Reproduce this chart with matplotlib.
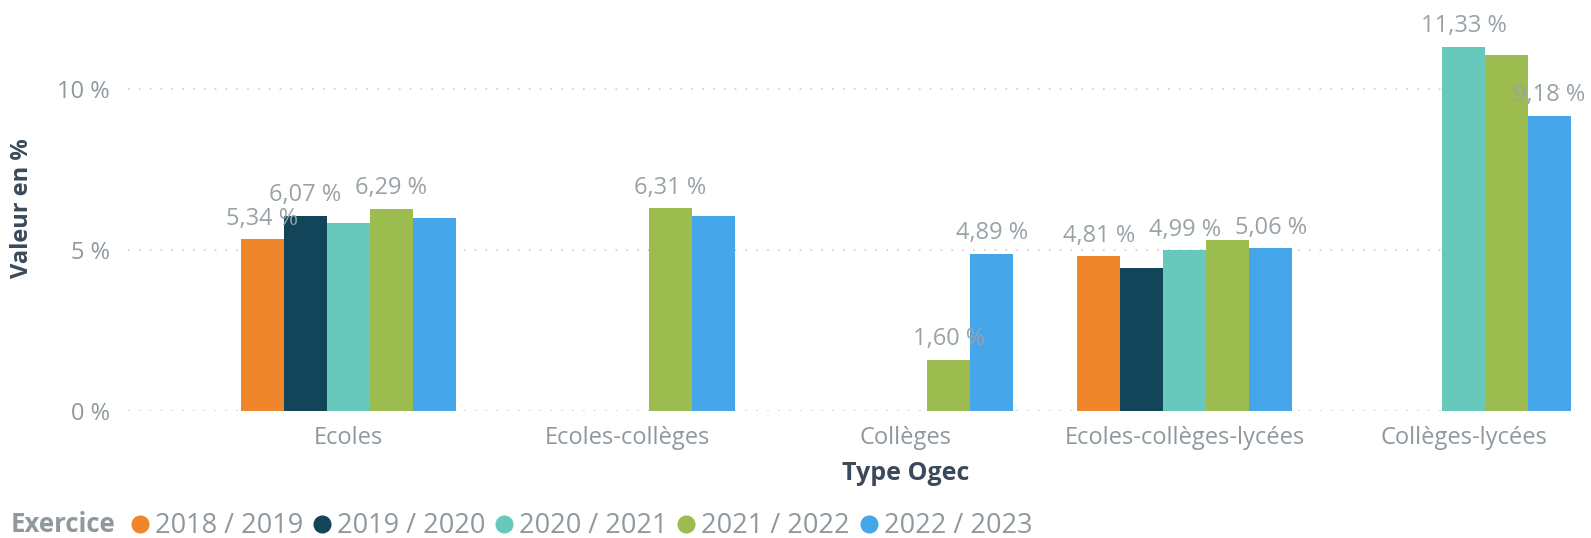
import numpy as np
import matplotlib
matplotlib.use("Agg")
import matplotlib.pyplot as plt
from matplotlib.lines import Line2D

plt.rcParams['font.family'] = ['Open Sans', 'DejaVu Sans']

# ---------------------------------------------------------------------------
# data
# ---------------------------------------------------------------------------
categories = ["Ecoles", "Ecoles-collèges", "Collèges",
              "Ecoles-collèges-lycées", "Collèges-lycées"]
series = ["2018 / 2019", "2019 / 2020", "2020 / 2021", "2021 / 2022", "2022 / 2023"]

v_2018_2019 = [5.34, np.nan, np.nan, 4.81, np.nan]
v_2019_2020 = [6.07, np.nan, np.nan, 4.44, np.nan]
v_2020_2021 = [5.83, np.nan, np.nan, 4.99, 11.33]
v_2021_2022 = [6.29, 6.31, 1.60, 5.32, 11.08]
v_2022_2023 = [6.00, 6.06, 4.89, 5.06, 9.18]
values = [v_2018_2019, v_2019_2020, v_2020_2021, v_2021_2022, v_2022_2023]

# which bars carry a data label (series index, category index)
labelled = {(0, 0), (1, 0), (3, 0), (3, 1), (3, 2), (4, 2),
            (0, 3), (2, 3), (4, 3), (2, 4), (4, 4)}

colors = ["#EF862C", "#12445A", "#67C9BC", "#9DBC4F", "#45A7E9"]
GREY = "#8E989D"
DARK = "#3B4A5B"

# ---------------------------------------------------------------------------
# figure
# ---------------------------------------------------------------------------
W, H = 1591, 538
fig = plt.figure(figsize=(W / 100, H / 100), dpi=100)
ax = fig.add_axes([128 / W, 1 - 411 / H, (1575 - 128) / W, (411 - 25) / H])

x = np.arange(len(categories))
bw = 0.1542
n = len(series)
for i, (name, vals, col) in enumerate(zip(series, values, colors)):
    xs = x + (i - (n - 1) / 2) * bw
    ax.bar(xs, vals, width=bw, color=col, edgecolor="none", zorder=2)
    for j, v in enumerate(vals):
        if (i, j) in labelled and not np.isnan(v):
            ax.annotate(f"{v:.2f} %".replace(".", ","), (xs[j], v),
                        xytext=(0, 6), textcoords="offset points",
                        ha="center", va="bottom", fontsize=17,
                        color="#99A3A7", zorder=3, annotation_clip=False)

ax.set_xlim(-0.79, 4.40)
ax.set_ylim(0, 12)
ax.set_yticks([0, 5, 10])
ax.set_yticklabels(["0 %", "5 %", "10 %"])
ax.set_xticks(x)
ax.set_xticklabels(categories)
ax.tick_params(axis="y", length=0, pad=13, labelsize=17, labelcolor=GREY)
ax.tick_params(axis="x", length=0, pad=11, labelsize=17, labelcolor=GREY)

for yv in [0, 5, 10]:
    ax.axhline(yv, color="#C9CDD0", linewidth=1.2, linestyle=(0, (1, 5.5)), zorder=1)

for s in ax.spines.values():
    s.set_visible(False)

fig.text(22 / W, 1 - 208 / H, "Valeur en %", rotation=90, ha="center", va="center",
         fontsize=17, fontweight="bold", color=DARK)
fig.text(906 / W, 1 - 473 / H, "Type Ogec", ha="center", va="center",
         fontsize=18, fontweight="bold", color=DARK)

# legend
fig.text(11 / W, 1 - 524 / H, "Exercice", ha="left", va="center",
         fontsize=18.5, fontweight="bold", color=GREY)
handles = [Line2D([], [], marker="o", linestyle="", markersize=12,
                  markerfacecolor=c, markeredgecolor=c) for c in colors]
leg = fig.legend(handles, series, loc="center left",
                 bbox_to_anchor=(133 / W, 1 - 526 / H), ncol=5, frameon=False,
                 fontsize=19.5, handlelength=0.5, handletextpad=0.3,
                 columnspacing=0.45, borderpad=0, borderaxespad=0)
for t in leg.get_texts():
    t.set_color(GREY)

fig.savefig("out.png", dpi=100)
